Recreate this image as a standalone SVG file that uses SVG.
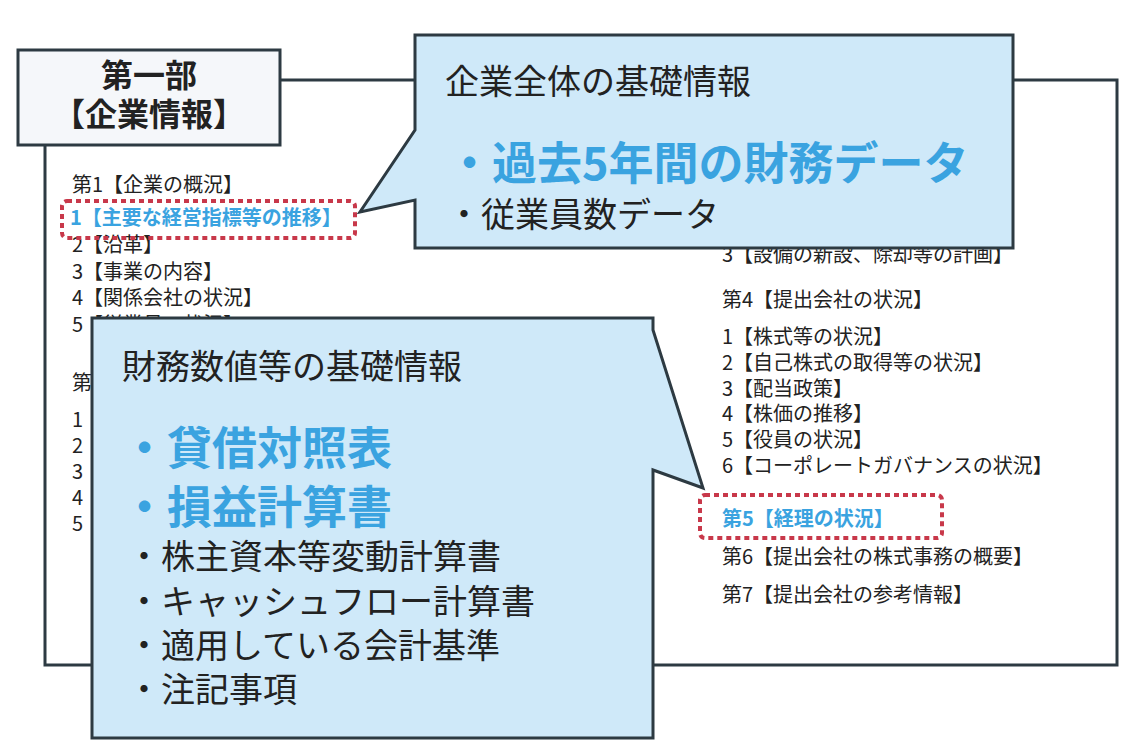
<svg xmlns="http://www.w3.org/2000/svg" width="1134" height="750" viewBox="0 0 1134 750">
<style>
text{font-family:"Noto Sans CJK JP","Noto Sans",sans-serif;fill:#222}
.s{font-size:20px}
.b{fill:#3aa3e0;font-weight:bold}
.co{fill:#cfe9f9;stroke:#2d3a42;stroke-width:3;stroke-linejoin:miter}
.dot{fill:none;stroke:#c8384a;stroke-width:4;stroke-dasharray:5 4}
.h{font-size:34px}
.big{font-size:45px;fill:#3aa3e0;font-weight:bold}
.m{font-size:34px}
</style>
<rect width="1134" height="750" fill="#fff"/>
<g id="frame"><rect x="45" y="80" width="1072" height="585" fill="#fff" stroke="#2d3a42" stroke-width="3"/></g>
<g id="list-left">
<text class="s" x="72" y="192">第1【企業の概況】</text>
<text class="s b" x="70" y="225">1【主要な経営指標等の推移】</text>
<text class="s" x="72" y="252">2【沿革】</text>
<text class="s" x="72" y="279">3【事業の内容】</text>
<text class="s" x="72" y="305">4【関係会社の状況】</text>
<text class="s" x="72" y="332">5【従業員の状況】</text>
<text class="s" x="72" y="390">第</text>
<text class="s" x="72" y="427">1</text>
<text class="s" x="72" y="453">2</text>
<text class="s" x="72" y="479">3</text>
<text class="s" x="72" y="505">4</text>
<text class="s" x="72" y="531">5</text>
<rect class="dot" x="62" y="201" width="293" height="37" rx="5"/>
</g>
<g id="list-right">
<text class="s" x="722" y="262">3【設備の新設、除却等の計画】</text>
<text class="s" x="722" y="307">第4【提出会社の状況】</text>
<text class="s" x="722" y="344">1【株式等の状況】</text>
<text class="s" x="722" y="370">2【自己株式の取得等の状況】</text>
<text class="s" x="722" y="396">3【配当政策】</text>
<text class="s" x="722" y="421">4【株価の推移】</text>
<text class="s" x="722" y="447">5【役員の状況】</text>
<text class="s" x="722" y="473">6【コーポレートガバナンスの状況】</text>
<text class="s b" x="722" y="526">第5【経理の状況】</text>
<text class="s" x="722" y="564">第6【提出会社の株式事務の概要】</text>
<text class="s" x="722" y="602">第7【提出会社の参考情報】</text>
<rect class="dot" x="700" y="495" width="242" height="43" rx="5"/>
</g>
<g id="title">
<rect x="18" y="50" width="262" height="95" fill="#f5f7fa" stroke="#2d3a42" stroke-width="3"/>
<text x="149" y="87" font-size="32" font-weight="bold" text-anchor="middle">第一部</text>
<text x="149" y="126" font-size="32" font-weight="bold" text-anchor="middle">【企業情報】</text>
</g>
<g id="callout-top">
<path class="co" d="M415 35 H1013 V248 H415 V200 L360 212 L415 130 Z"/>
<text class="h" x="445" y="94">企業全体の基礎情報</text>
<text class="big" x="447" y="180">・過去5年間の財務データ</text>
<text class="m" x="447" y="227">・従業員数データ</text>
</g>
<g id="callout-bottom">
<path class="co" d="M92 318 H653 V330 L703 488 L653 470 V738 H92 Z"/>
<text class="h" x="122" y="379">財務数値等の基礎情報</text>
<text class="big" x="122" y="465">・貸借対照表</text>
<text class="big" x="122" y="524">・損益計算書</text>
<text class="m" x="127" y="569">・株主資本等変動計算書</text>
<text class="m" x="127" y="614">・キャッシュフロー計算書</text>
<text class="m" x="127" y="658">・適用している会計基準</text>
<text class="m" x="127" y="702">・注記事項</text>
</g>
</svg>
